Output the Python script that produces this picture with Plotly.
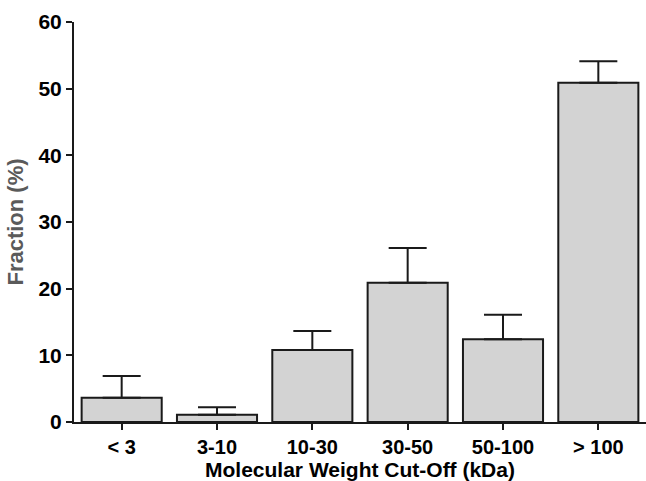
import plotly.graph_objects as go

categories = ["< 3", "3-10", "10-30", "30-50", "50-100", "> 100"]
fraction = [3.65, 1.1, 10.8, 20.9, 12.4, 50.9]
sem = [3.25, 1.1, 2.85, 5.2, 3.7, 3.2]
y_ticks = [0, 10, 20, 30, 40, 50, 60]

fig = go.Figure()
fig.add_trace(go.Bar(
    x=categories, y=fraction,
    marker=dict(color="#d3d3d3", line=dict(color="#1a1a1a", width=2)),
    error_y=dict(type="data", array=sem, symmetric=False,
                 arrayminus=[0] * len(sem), color="#1a1a1a",
                 thickness=2, width=19),
))

font_family = "Liberation Sans, Arial, sans-serif"
fig.update_layout(
    width=646, height=481,
    margin=dict(l=74, r=0, t=22, b=59),
    plot_bgcolor="white", paper_bgcolor="white",
    bargap=0.16, showlegend=False,
    font=dict(family=font_family, color="black"),
)
fig.update_xaxes(
    range=[-0.5, 5.5], showline=True, linecolor="#1a1a1a", linewidth=2,
    ticks="outside", ticklen=6, tickwidth=2, tickcolor="#1a1a1a",
    tickfont=dict(family=font_family, size=20, color="black", weight="bold"),
    title=dict(text="Molecular Weight Cut-Off (kDa)", standoff=4,
               font=dict(family=font_family, size=21, color="black", weight="bold")),
    showgrid=False, zeroline=False,
)
fig.update_yaxes(
    range=[0, 60], tickvals=y_ticks, showline=True, linecolor="#1a1a1a", linewidth=2,
    ticks="outside", ticklen=6, tickwidth=2, tickcolor="#1a1a1a",
    tickfont=dict(family=font_family, size=21, color="black", weight="bold"),
    title=dict(text="Fraction (%)", standoff=9,
               font=dict(family=font_family, size=22, color="#5a5a5a", weight="bold")),
    showgrid=False, zeroline=False,
)
fig.write_html("out.html")
